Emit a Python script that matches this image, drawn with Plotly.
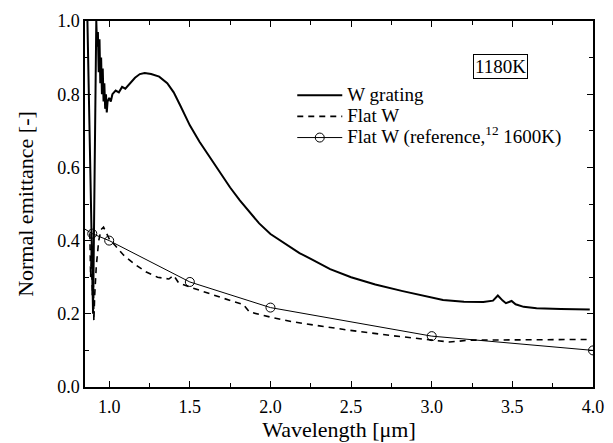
import plotly.graph_objects as go

# W grating (measured, 1180 K)
grating_x = [0.865, 0.87, 0.875, 0.88, 0.885, 0.89, 0.895, 0.90, 0.905, 0.91, 0.915, 0.92,
             0.925, 0.93, 0.935, 0.94, 0.945, 0.95, 0.955, 0.96, 0.965, 0.97, 0.975, 0.98,
             0.985, 0.99, 1.00, 1.01, 1.02, 1.04, 1.06, 1.08, 1.10, 1.13, 1.16, 1.19, 1.22,
             1.26, 1.31, 1.36, 1.40, 1.44, 1.50, 1.56, 1.62, 1.69, 1.75, 1.81, 1.87, 1.93,
             2.00, 2.06, 2.12, 2.18, 2.25, 2.37, 2.50, 2.65, 2.82, 2.95, 3.07, 3.20, 3.32,
             3.38, 3.41, 3.44, 3.46, 3.495, 3.52, 3.57, 3.65, 3.80, 3.98]
grating_y = [1.00, 0.90, 0.78, 0.66, 0.55, 0.44, 0.32, 0.20, 0.45, 0.70, 0.88, 1.00,
             0.93, 0.97, 0.86, 0.95, 0.83, 0.90, 0.80, 0.87, 0.78, 0.83, 0.76, 0.80,
             0.75, 0.78, 0.79, 0.78, 0.80, 0.81, 0.805, 0.82, 0.815, 0.83, 0.845, 0.855, 0.858,
             0.855, 0.848, 0.83, 0.805, 0.77, 0.715, 0.67, 0.63, 0.584, 0.545, 0.51, 0.478, 0.447,
             0.418, 0.400, 0.382, 0.366, 0.350, 0.322, 0.300, 0.280, 0.262, 0.250, 0.238, 0.233, 0.232,
             0.236, 0.250, 0.236, 0.229, 0.235, 0.226, 0.219, 0.215, 0.213, 0.212]

# Flat W (measured)
flat_x = [0.88, 0.885, 0.89, 0.895, 0.90, 0.905, 0.91, 0.92, 0.935, 0.95, 0.965, 0.98,
          1.00, 1.04, 1.09, 1.16, 1.23, 1.30, 1.37, 1.40, 1.43, 1.50, 1.60, 1.69, 1.78,
          1.83, 1.87, 2.00, 2.14, 2.29, 2.49, 2.74, 2.99, 3.11, 3.24, 3.40, 3.60, 3.80, 3.98]
flat_y = [0.42, 0.30, 0.38, 0.25, 0.33, 0.18, 0.25, 0.33, 0.40, 0.43, 0.437, 0.425,
          0.405, 0.385, 0.36, 0.335, 0.314, 0.30, 0.295, 0.305, 0.285, 0.273, 0.258, 0.246, 0.232,
          0.226, 0.205, 0.191, 0.178, 0.168, 0.155, 0.141, 0.130, 0.123, 0.128, 0.128, 0.129, 0.129, 0.130]

# Flat W (reference 12, 1600 K)
ref_x = [0.80, 0.895, 1.0, 1.5, 2.0, 3.0, 4.0]
ref_y = [0.445, 0.419, 0.400, 0.287, 0.217, 0.139, 0.100]

legend_names = ["W grating", "Flat W", "Flat W (reference,<sup>12</sup> 1600K)"]

font_family = "Liberation Serif, Times New Roman, serif"


def big(t):
    return '<span style="font-size:19px">' + t + '</span>'


fig = go.Figure()
fig.add_trace(go.Scatter(x=grating_x, y=grating_y, mode="lines", name=big(legend_names[0]),
                         line=dict(color="black", width=2)))
fig.add_trace(go.Scatter(x=flat_x, y=flat_y, mode="lines", name=big(legend_names[1]),
                         line=dict(color="black", width=1.6, dash="6px,5px")))
fig.add_trace(go.Scatter(x=ref_x, y=ref_y, mode="lines+markers",
                         name=big(legend_names[2]),
                         line=dict(color="black", width=1),
                         marker=dict(symbol="circle-open", size=9, color="black",
                                     line=dict(width=1, color="black")),
                         cliponaxis=True))

axis_common = dict(
    showline=True, linecolor="black", linewidth=1.5, mirror="ticks",
    ticks="inside", ticklen=6, tickwidth=1, tickcolor="black",
    showgrid=False, zeroline=False, automargin=False,
    tickfont=dict(family=font_family, size=18, color="black"),
)

fig.update_xaxes(range=[0.85, 4.0], tick0=1.0, dtick=0.5, tickformat=".1f",
                 ticklabelstandoff=3,
                 minor=dict(ticks="inside", ticklen=4, tickcolor="black", dtick=0.25, showgrid=False),
                 title=dict(text="Wavelength [μm]", font=dict(family=font_family, size=22, color="black"),
                            standoff=0),
                 **axis_common)
fig.update_yaxes(range=[0, 1.0], tick0=0, dtick=0.2, tickformat=".1f",
                 minor=dict(ticks="inside", ticklen=4, tickcolor="black", dtick=0.1, showgrid=False),
                 title=dict(text="Normal emittance [-]", font=dict(family=font_family, size=22, color="black"),
                            standoff=17),
                 **axis_common)

fig.add_annotation(x=0.817, y=0.876, xref="paper", yref="paper", xanchor="center", yanchor="middle",
                   text="1180K",
                   showarrow=False, font=dict(family=font_family, size=19, color="black"),
                   bordercolor="black", borderwidth=1, borderpad=1, bgcolor="white")

fig.update_layout(
    width=613, height=443,
    margin=dict(l=85, r=20, t=21, b=56, autoexpand=False),
    plot_bgcolor="white", paper_bgcolor="white",
    showlegend=True,
    legend=dict(x=0.408, y=0.84, xanchor="left", yanchor="top",
                bgcolor="rgba(0,0,0,0)", borderwidth=0, itemwidth=45,
                font=dict(family=font_family, size=14, color="black")),
)

fig.write_html("out.html", config={"displayModeBar": False},
               post_script="document.body.style.margin='0';")
